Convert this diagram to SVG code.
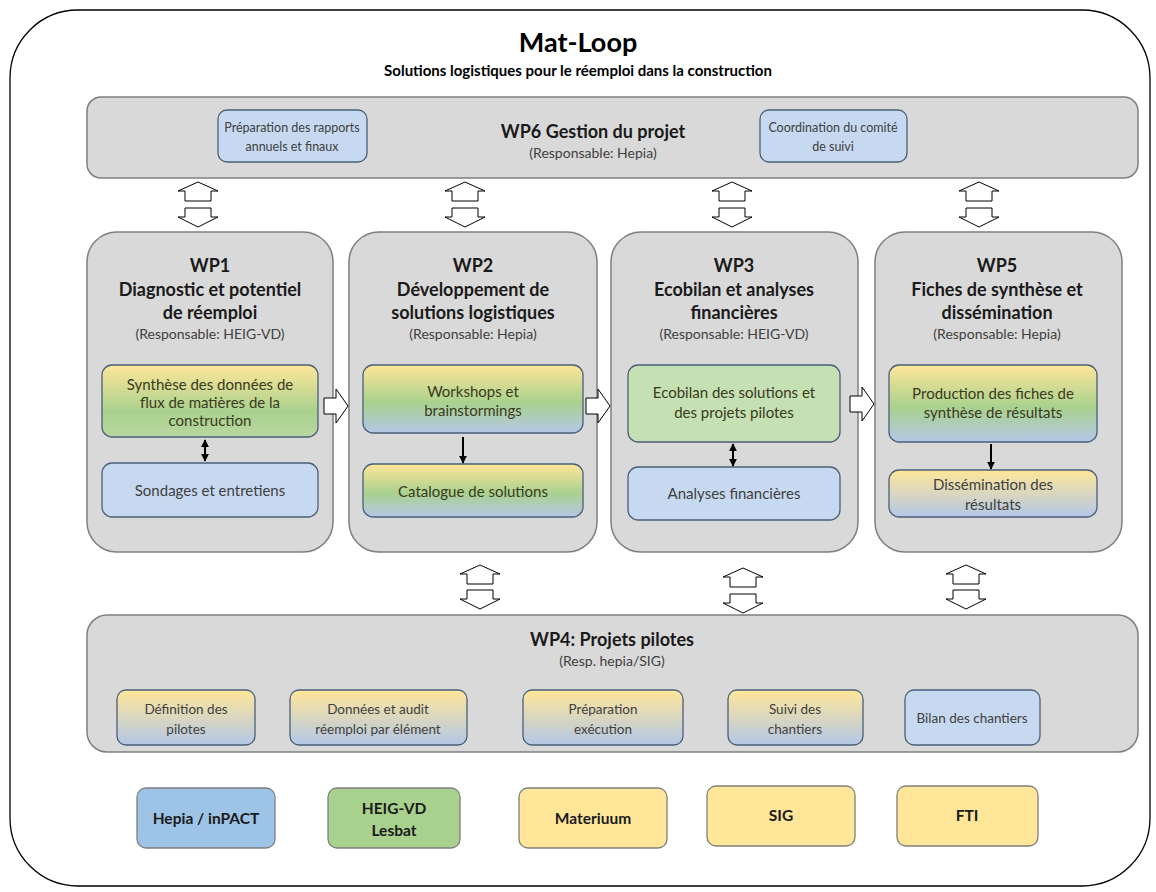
<svg xmlns="http://www.w3.org/2000/svg" width="1156" height="892" viewBox="0 0 1156 892">
<defs>
<style>
text{font-family:Lato,"Open Sans","Liberation Sans",sans-serif;text-anchor:middle;}
.frame{fill:#fff;stroke:#000;stroke-width:1.3;}
.wp{fill:#d9d9d9;stroke:#7f7f7f;stroke-width:1.5;}
.blue{fill:#c6d9f0;stroke:#4a5f7a;stroke-width:1.3;}
.green{fill:#c5e0b3;stroke:#4a5f7a;stroke-width:1.3;}
.g3{fill:url(#g3);stroke:#4a5f7a;stroke-width:1.3;}
.g2{fill:url(#g2);stroke:#4a5f7a;stroke-width:1.3;}
.gb{fill:url(#gb);stroke:#4a5f7a;stroke-width:1.3;}
.hollow{fill:#fff;stroke:#000;stroke-width:1;}
.title{font-size:27px;font-weight:bold;fill:#000;}
.sub{font-size:15px;font-weight:bold;fill:#000;}
.wpt{font-size:18px;font-weight:bold;fill:#1a1a1a;}
.resp{font-size:14px;fill:#404040;}
.it{font-size:15px;fill:#404040;}
.itg{font-size:15px;fill:#3a3a20;}
.is{font-size:12.5px;fill:#404040;}
.i4{font-size:13.5px;fill:#404040;}
.leg{font-size:15.5px;font-weight:bold;fill:#1a1a1a;}
.lb{fill:#9dc3e6;stroke:#7f7f7f;stroke-width:1.3;}
.lg{fill:#a9d18e;stroke:#7f7f7f;stroke-width:1.3;}
.ly{fill:#ffe699;stroke:#7f7f7f;stroke-width:1.3;}
.conn{stroke:#000;stroke-width:2;fill:none;}
</style>
<linearGradient id="g3" x1="0" y1="0" x2="0" y2="1">
<stop offset="0" stop-color="#ffe699"/>
<stop offset="0.55" stop-color="#a9d18e"/>
<stop offset="1" stop-color="#b4c7e7"/>
</linearGradient>
<linearGradient id="g2" x1="0" y1="0" x2="0" y2="1">
<stop offset="0" stop-color="#ffe699"/>
<stop offset="0.65" stop-color="#a9d18e"/>
<stop offset="1" stop-color="#b9d7a0"/>
</linearGradient>
<linearGradient id="gb" x1="0" y1="0" x2="0" y2="1">
<stop offset="0" stop-color="#ffe699"/>
<stop offset="1" stop-color="#b4c7e7"/>
</linearGradient>
<marker id="ah" viewBox="0 0 10 10" refX="9" refY="5" markerWidth="4" markerHeight="4" orient="auto-start-reverse">
<path d="M0,0 L10,5 L0,10 z" fill="#000"/>
</marker>
<path id="up" d="M0,0 L20,9 L13,9 L13,19 L-13,19 L-13,9 L-20,9 z"/>
<path id="down" d="M-13,0 L13,0 L13,9 L20,9 L0,19 L-20,9 L-13,9 z"/>
<path id="right" d="M0,-8 L12,-8 L12,-17 L24,0 L12,17 L12,8 L0,8 z"/>
</defs>

<rect class="frame" x="10" y="10" width="1140" height="876" rx="68" ry="68"/>

<g id="header">
<text class="title" x="578" y="52">Mat-Loop</text>
<text class="sub" x="578" y="76">Solutions logistiques pour le réemploi dans la construction</text>
</g>

<g id="wp6">
<rect class="wp" x="87" y="97" width="1051" height="81" rx="14"/>
<text class="wpt" x="593" y="138">WP6 Gestion du projet</text>
<text class="resp" x="593" y="158">(Responsable: Hepia)</text>
</g>
<g id="wp6-rapports">
<rect class="blue" x="218" y="110" width="149" height="52" rx="9"/>
<text class="is" x="292" y="132">Préparation des rapports</text>
<text class="is" x="292" y="151">annuels et finaux</text>
</g>
<g id="wp6-comite">
<rect class="blue" x="760" y="110" width="147" height="52" rx="9"/>
<text class="is" x="833" y="132">Coordination du comité</text>
<text class="is" x="833" y="151">de suivi</text>
</g>

<g id="wp1">
<rect class="wp" x="87" y="232" width="246" height="320" rx="30"/>
<text class="wpt" x="210" y="272">WP1</text>
<text class="wpt" x="210" y="296">Diagnostic et potentiel</text>
<text class="wpt" x="210" y="319">de réemploi</text>
<text class="resp" x="210" y="339">(Responsable: HEIG-VD)</text>
</g>
<g id="wp1-synthese">
<rect class="g2" x="102" y="365" width="216" height="72" rx="10"/>
<text class="itg" x="210" y="390">Synthèse des données de</text>
<text class="itg" x="210" y="408">flux de matières de la</text>
<text class="itg" x="210" y="426">construction</text>
</g>
<g id="wp1-sondages">
<rect class="blue" x="102" y="463" width="216" height="54" rx="10"/>
<text class="it" x="210" y="496">Sondages et entretiens</text>
</g>

<g id="wp2">
<rect class="wp" x="349" y="232" width="248" height="320" rx="30"/>
<text class="wpt" x="473" y="272">WP2</text>
<text class="wpt" x="473" y="296">Développement de</text>
<text class="wpt" x="473" y="319">solutions logistiques</text>
<text class="resp" x="473" y="339">(Responsable: Hepia)</text>
</g>
<g id="wp2-workshops">
<rect class="g3" x="363" y="365" width="220" height="68" rx="10"/>
<text class="itg" x="473" y="397">Workshops et</text>
<text class="itg" x="473" y="416">brainstormings</text>
</g>
<g id="wp2-catalogue">
<rect class="g3" x="363" y="464" width="220" height="53" rx="10"/>
<text class="itg" x="473" y="497">Catalogue de solutions</text>
</g>

<g id="wp3">
<rect class="wp" x="611" y="232" width="247" height="320" rx="30"/>
<text class="wpt" x="734" y="272">WP3</text>
<text class="wpt" x="734" y="296">Ecobilan et analyses</text>
<text class="wpt" x="734" y="319">financières</text>
<text class="resp" x="734" y="339">(Responsable: HEIG-VD)</text>
</g>
<g id="wp3-ecobilan">
<rect class="green" x="628" y="365" width="212" height="77" rx="10"/>
<text class="itg" x="734" y="398">Ecobilan des solutions et</text>
<text class="itg" x="734" y="418">des projets pilotes</text>
</g>
<g id="wp3-analyses">
<rect class="blue" x="628" y="467" width="212" height="53" rx="10"/>
<text class="it" x="734" y="499">Analyses financières</text>
</g>

<g id="wp5">
<rect class="wp" x="875" y="232" width="247" height="320" rx="30"/>
<text class="wpt" x="997" y="272">WP5</text>
<text class="wpt" x="997" y="296">Fiches de synthèse et</text>
<text class="wpt" x="997" y="319">dissémination</text>
<text class="resp" x="997" y="339">(Responsable: Hepia)</text>
</g>
<g id="wp5-production">
<rect class="g3" x="889" y="365" width="208" height="77" rx="10"/>
<text class="itg" x="993" y="399">Production des fiches de</text>
<text class="itg" x="993" y="418">synthèse de résultats</text>
</g>
<g id="wp5-dissemination">
<rect class="gb" x="889" y="470" width="208" height="47" rx="10"/>
<text class="it" x="993" y="490">Dissémination des</text>
<text class="it" x="993" y="510">résultats</text>
</g>

<g id="wp4">
<rect class="wp" x="87" y="615" width="1051" height="137" rx="20"/>
<text class="wpt" x="612" y="646">WP4: Projets pilotes</text>
<text class="resp" x="612" y="666">(Resp. hepia/SIG)</text>
</g>
<g id="wp4-definition">
<rect class="gb" x="117" y="690" width="138" height="55" rx="9"/>
<text class="i4" x="186" y="714">Définition des</text>
<text class="i4" x="186" y="734">pilotes</text>
</g>
<g id="wp4-donnees">
<rect class="gb" x="290" y="690" width="177" height="55" rx="9"/>
<text class="i4" x="378" y="714">Données et audit</text>
<text class="i4" x="378" y="734">réemploi par élément</text>
</g>
<g id="wp4-preparation">
<rect class="gb" x="523" y="690" width="160" height="55" rx="9"/>
<text class="i4" x="603" y="714">Préparation</text>
<text class="i4" x="603" y="734">exécution</text>
</g>
<g id="wp4-suivi">
<rect class="gb" x="728" y="690" width="135" height="55" rx="9"/>
<text class="i4" x="795" y="714">Suivi des</text>
<text class="i4" x="795" y="734">chantiers</text>
</g>
<g id="wp4-bilan">
<rect class="blue" x="905" y="690" width="135" height="55" rx="9"/>
<text class="i4" x="972" y="723">Bilan des chantiers</text>
</g>

<g id="legend-hepia">
<rect class="lb" x="137" y="788" width="138" height="60" rx="9"/>
<text class="leg" x="206" y="824">Hepia / inPACT</text>
</g>
<g id="legend-heig">
<rect class="lg" x="328" y="788" width="132" height="60" rx="9"/>
<text class="leg" x="394" y="814">HEIG-VD</text>
<text class="leg" x="394" y="836">Lesbat</text>
</g>
<g id="legend-materiuum">
<rect class="ly" x="519" y="788" width="148" height="60" rx="9"/>
<text class="leg" x="593" y="824">Materiuum</text>
</g>
<g id="legend-sig">
<rect class="ly" x="707" y="786" width="148" height="60" rx="9"/>
<text class="leg" x="781" y="821">SIG</text>
</g>
<g id="legend-fti">
<rect class="ly" x="897" y="786" width="141" height="60" rx="9"/>
<text class="leg" x="967" y="821">FTI</text>
</g>

<g id="connectors">
<use href="#up" class="hollow" x="198" y="182"/>
<use href="#down" class="hollow" x="198" y="208"/>
<use href="#up" class="hollow" x="465" y="182"/>
<use href="#down" class="hollow" x="465" y="208"/>
<use href="#up" class="hollow" x="732" y="182"/>
<use href="#down" class="hollow" x="732" y="208"/>
<use href="#up" class="hollow" x="979" y="182"/>
<use href="#down" class="hollow" x="979" y="208"/>

<use href="#right" class="hollow" x="324" y="406"/>
<use href="#right" class="hollow" x="586" y="406"/>
<use href="#right" class="hollow" x="850" y="404"/>

<use href="#up" class="hollow" x="480" y="565"/>
<use href="#down" class="hollow" x="480" y="590"/>
<use href="#up" class="hollow" x="743" y="568"/>
<use href="#down" class="hollow" x="743" y="594"/>
<use href="#up" class="hollow" x="966" y="565"/>
<use href="#down" class="hollow" x="966" y="590"/>

<line class="conn" x1="205" y1="440" x2="205" y2="461" marker-start="url(#ah)" marker-end="url(#ah)"/>
<line class="conn" x1="463" y1="437" x2="463" y2="463" marker-end="url(#ah)"/>
<line class="conn" x1="733" y1="444" x2="733" y2="466" marker-start="url(#ah)" marker-end="url(#ah)"/>
<line class="conn" x1="991" y1="444" x2="991" y2="469" marker-end="url(#ah)"/>
</g>
</svg>
